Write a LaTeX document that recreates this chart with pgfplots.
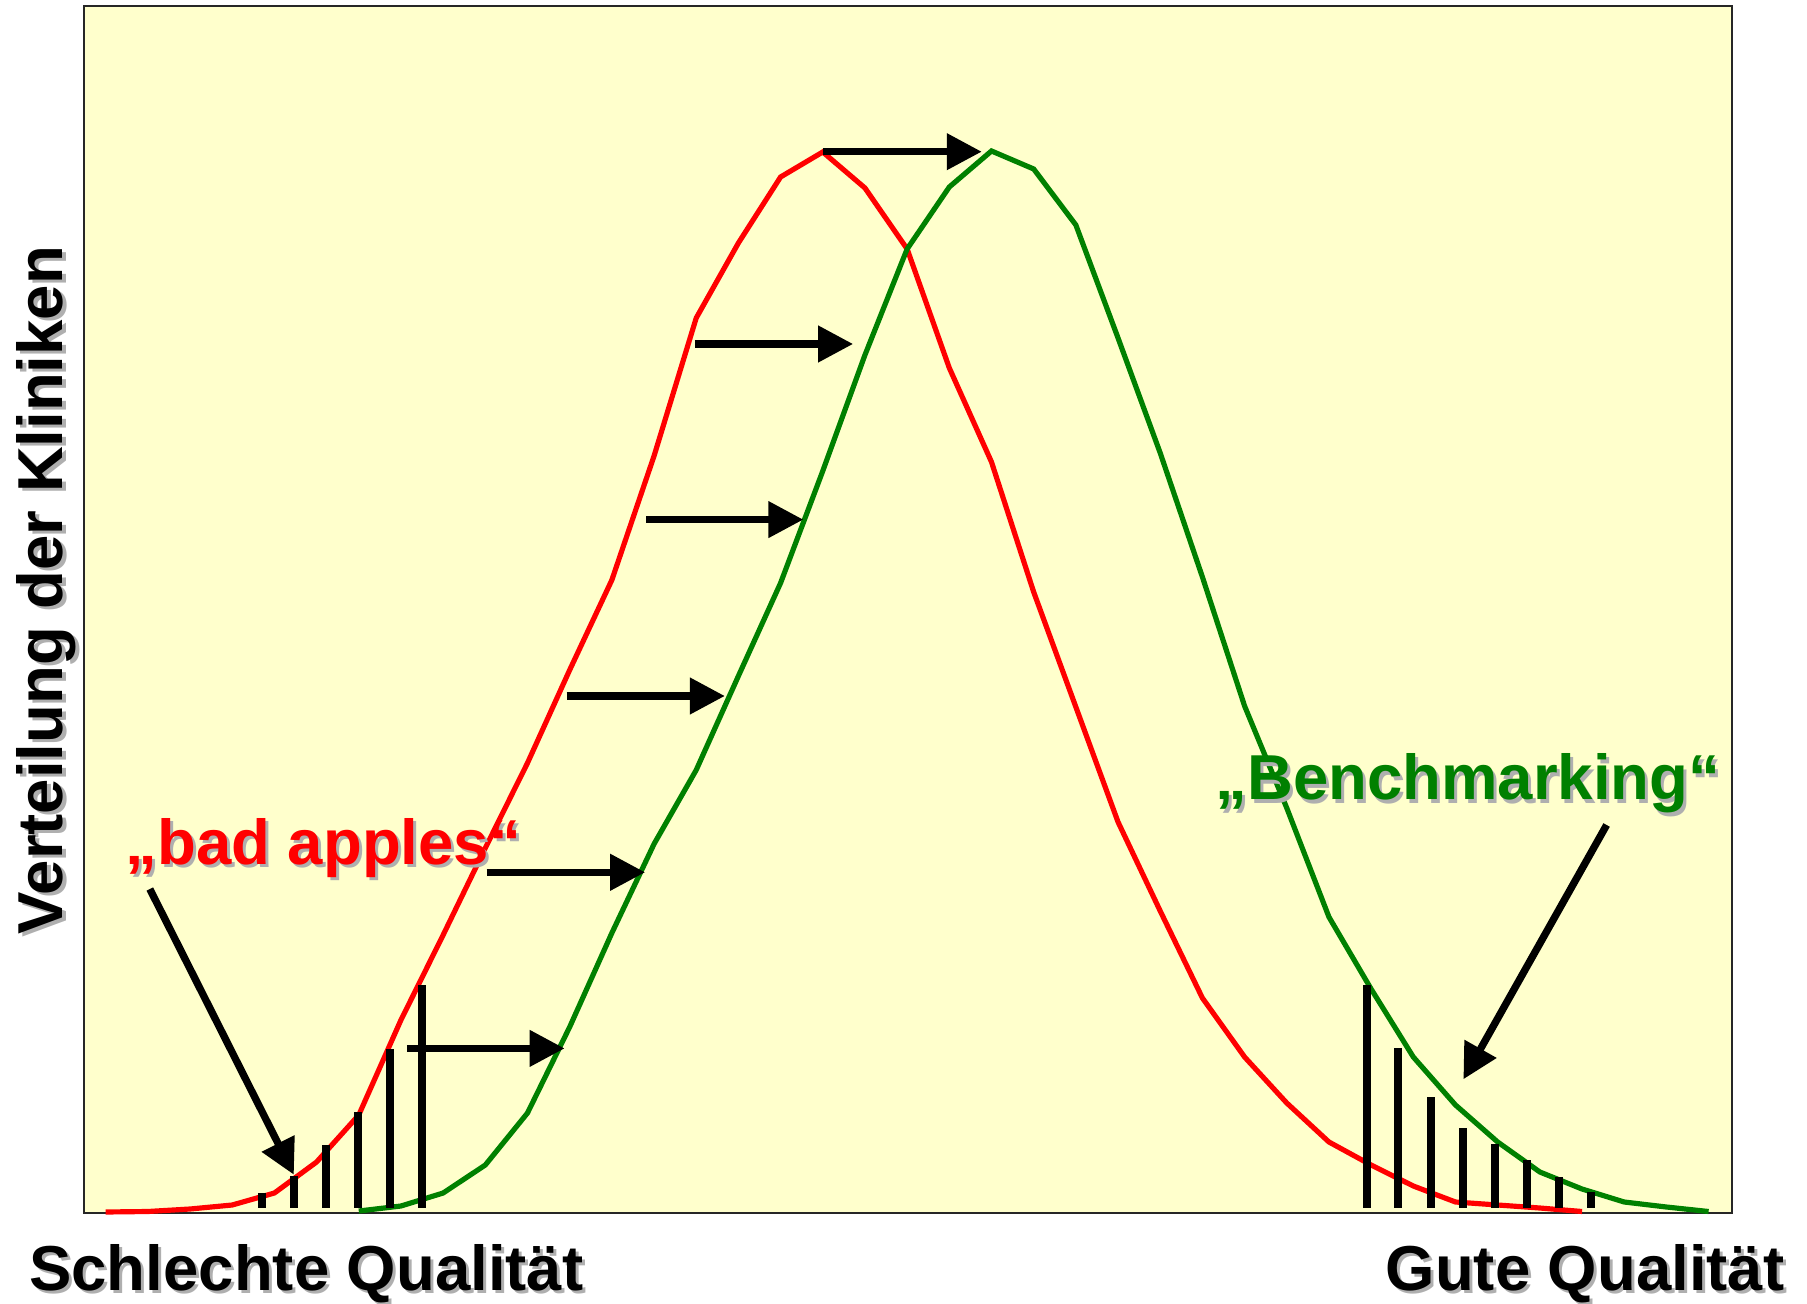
\documentclass[border=0pt]{standalone}
\usepackage{pgfplots}
\pgfplotsset{compat=1.18}
\usepackage{pgfplotstable}
\usetikzlibrary{arrows.meta}
\usepackage{fontspec}
\setmainfont{Liberation Sans}
\definecolor{bgyellow}{RGB}{255,255,204}
\definecolor{cred}{RGB}{255,0,0}
\definecolor{cgreen}{RGB}{0,128,0}
\definecolor{shadowgray}{RGB}{175,175,175}
\newcommand\labfont{\fontsize{19.05pt}{22pt}\selectfont\bfseries}

\pgfplotstableread{
i y
0 1
1 1.5
2 4
3 8
4 20
5 51
6 98
7 193
8 278
9 365
10 450
11 543
12 633
13 757
14 895
15 970
16 1036
17 1061
18 1025
19 964
20 845
21 751
22 621
23 506
24 391
25 302
26 215
27 156
28 110
29 71
30 48
31 27
32 11
33 8
34 5
35 1.5
}\redtab

\pgfplotstableread{
i y
6 2
7 7
8 20
9 48
10 100
11 186
12 280
13 369
14 443
15 537
16 630
17 742
18 858
19 964
20 1026
21 1062
22 1044
23 988
24 875
25 760
26 636
27 507
28 405
29 296
30 224
31 156
32 108
33 71
34 41
35 24
36 11
37 6
38 1.5
}\greentab

\begin{document}
\begin{tikzpicture}
\path[use as bounding box] (-25.2pt,-27pt) rectangle (516.9pt,363.9pt);
\begin{axis}[
  scale only axis,
  width=494.4pt, height=362.1pt,
  xmin=-0.514, xmax=38.556,
  ymin=0, ymax=1207,
  xtick=\empty, ytick=\empty,
  axis background/.style={fill=bgyellow},
  axis line style={line width=0.6pt, black!85},
  unbounded coords=jump,
  clip=false,
]
% distributions
\addplot[cred, line width=1.55pt, mark=none] table[x=i, y=y] {\redtab};
\addplot[cgreen, line width=1.55pt, mark=none] table[x=i, y=y] {\greentab};
% hatching bars (tails)
\addplot[black, line width=2.4pt, mark=none] coordinates {
 (3.713,5.5) (3.713,20) (3.713,nan)
 (4.464,5.5) (4.464,37) (4.464,nan)
 (5.230,5.5) (5.230,68) (5.230,nan)
 (5.989,5.5) (5.989,101) (5.989,nan)
 (6.740,5.5) (6.740,164) (6.740,nan)
 (7.505,5.5) (7.505,228) (7.505,nan)
 (29.896,5.5) (29.896,228) (29.896,nan)
 (30.645,5.5) (30.645,165) (30.645,nan)
 (31.413,5.5) (31.413,116) (31.413,nan)
 (32.172,5.5) (32.172,85) (32.172,nan)
 (32.930,5.5) (32.930,69) (32.930,nan)
 (33.689,5.5) (33.689,53) (33.689,nan)
 (34.448,5.5) (34.448,36) (34.448,nan)
 (35.206,5.5) (35.206,21)
};
% shift arrows
\begin{scope}[line width=2.2pt, -{Triangle[length=10.5pt,width=10.5pt]}]
\draw (17.00,1061.3) -- (20.77,1061.3);
\draw (13.97,869) -- (17.72,869);
\draw (12.82,693.4) -- (16.54,693.4);
\draw (10.93,517) -- (14.68,517);
\draw (9.03,340.7) -- (12.79,340.7);
\draw (7.14,164.6) -- (10.88,164.6);
% pointer arrows
\draw (1.046,324) -- (4.461,38.3);
\draw (35.583,388) -- (32.187,133.7);
\end{scope}
\end{axis}
% labels (axis box origin at (0,0), 1 px = 0.3 pt)
\node[anchor=base, rotate=90, inner sep=0, text=shadowgray, font=\labfont] at (-5.4pt,186.0pt) {Verteilung der Kliniken};
\node[anchor=base, rotate=90, inner sep=0, text=black, font=\labfont] at (-6.3pt,186.9pt) {Verteilung der Kliniken};

\node[anchor=base west, inner sep=0, text=shadowgray, font=\labfont] at (-15.7pt,-24.05pt) {Schlechte Qualität};
\node[anchor=base west, inner sep=0, text=black, font=\labfont] at (-16.6pt,-23.15pt) {Schlechte Qualität};

\node[anchor=base east, inner sep=0, text=shadowgray, font=\labfont] at (511.2pt,-24.05pt) {Gute Qualität};
\node[anchor=base east, inner sep=0, text=black, font=\labfont] at (510.3pt,-23.15pt) {Gute Qualität};

\node[anchor=base west, inner sep=0, text=shadowgray, font=\labfont] at (13.2pt,103.65pt) {„bad apples“};
\node[anchor=base west, inner sep=0, text=cred, font=\labfont] at (12.3pt,104.55pt) {„bad apples“};

\node[anchor=base west, inner sep=0, text=shadowgray, font=\labfont] at (340.2pt,123.0pt) {„Benchmarking“};
\node[anchor=base west, inner sep=0, text=cgreen, font=\labfont] at (339.3pt,123.9pt) {„Benchmarking“};
\end{tikzpicture}
\end{document}
